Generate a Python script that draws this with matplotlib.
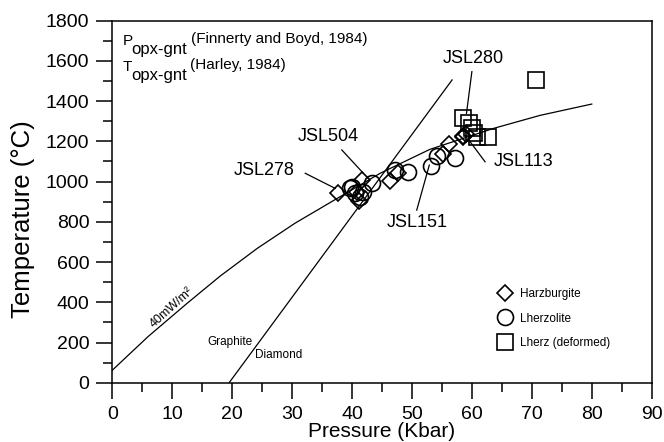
import numpy as np
import matplotlib.pyplot as plt
from matplotlib.lines import Line2D
from matplotlib.ticker import MultipleLocator

plt.rcParams['font.family'] = ['Liberation Sans', 'DejaVu Sans']

# sample data: pressure (kbar), temperature (C)
harz_p = [37.6, 40.9, 41.2, 41.6, 46.3, 47.6, 55.2, 56.1, 58.5, 58.6, 59.1]
harz_t = [941, 949, 905, 1007, 1004, 1044, 1137, 1186, 1226, 1220, 1236]

lherz_p = [39.7, 40.0, 40.5, 41.3, 41.9, 43.3, 47.2, 49.4, 53.2, 54.2, 57.2]
lherz_t = [966, 974, 941, 924, 949, 991, 1057, 1049, 1077, 1127, 1115]

def_p = [58.6, 59.6, 60.0, 60.3, 60.9, 62.7, 70.7]
def_t = [1314, 1290, 1264, 1240, 1223, 1222, 1504]

# 40 mW/m2 geotherm
geo_p = [0, 6.0, 12.5, 18.0, 24.2, 30.5, 37.0, 44.7, 53.0, 63.6, 71.4, 80.0]
geo_t = [62, 230, 395, 530, 668, 793, 907, 1041, 1160, 1264, 1329, 1385]

# graphite-diamond boundary
gd_p = [19.5, 56.7]
gd_t = [0, 1505]

# sample labels: text position, leader line start, leader line end
labels = ['JSL278', 'JSL504', 'JSL151', 'JSL280', 'JSL113']
lab_p = [25.3, 36.1, 50.8, 60.2, 68.6]
lab_t = [1057, 1223, 796, 1612, 1102]
lead_p0 = [32.2, 38.3, 50.8, 60.0, 62.2]
lead_t0 = [1041, 1157, 858, 1546, 1098]
lead_p1 = [37.2, 41.9, 52.9, 59.1, 59.7]
lead_t1 = [966, 1041, 1082, 1339, 1198]

fig = plt.figure(figsize=(6.64, 4.42), dpi=100)
ax = fig.add_axes([0.169, 0.134, 0.8125, 0.8195])

ax.plot(geo_p, geo_t, color='k', lw=0.9)
ax.plot(gd_p, gd_t, color='k', lw=0.9)

mk = dict(ls='none', mfc='none', mec='k', mew=1.2)
ax.plot(lherz_p, lherz_t, marker='o', ms=11.5, **mk)
ax.plot(harz_p, harz_t, marker='D', ms=7.8, **mk)
ax.plot(def_p, def_t, marker='s', ms=11.5, **mk)

for i in range(len(labels)):
    ax.plot([lead_p0[i], lead_p1[i]], [lead_t0[i], lead_t1[i]], color='k', lw=0.9)
    ax.text(lab_p[i], lab_t[i], labels[i], fontsize=13, ha='center', va='center')

ax.text(19.65, 202, 'Graphite', fontsize=8.5, ha='center', va='center')
ax.text(27.8, 138, 'Diamond', fontsize=8.5, ha='center', va='center')
ax.text(9.9, 372, '40mW/m²', fontsize=9, ha='center', va='center', rotation=42)

# header text with full size subscripts
ax.text(0.0195, 0.933, 'P', fontsize=11, transform=ax.transAxes, va='baseline')
ax.text(0.036, 0.908, 'opx-gnt', fontsize=12, transform=ax.transAxes, va='baseline')
ax.text(0.1455, 0.939, '(Finnerty and Boyd, 1984)', fontsize=11, transform=ax.transAxes, va='baseline')
ax.text(0.0195, 0.862, 'T', fontsize=11, transform=ax.transAxes, va='baseline')
ax.text(0.036, 0.837, 'opx-gnt', fontsize=12, transform=ax.transAxes, va='baseline')
ax.text(0.1445, 0.865, '(Harley, 1984)', fontsize=11, transform=ax.transAxes, va='baseline')

handles = [
    Line2D([], [], marker='D', ms=7.8, **mk),
    Line2D([], [], marker='o', ms=11.5, **mk),
    Line2D([], [], marker='s', ms=11.5, **mk),
]
ax.legend(handles, ['Harzburgite', 'Lherzolite', 'Lherz (deformed)'],
          loc='upper left', bbox_to_anchor=(0.717, 0.261), frameon=False,
          fontsize=8.5, handlelength=1.0, handletextpad=0.77,
          borderpad=0, borderaxespad=0, labelspacing=1.05)

ax.set_xlim(0, 90)
ax.set_ylim(0, 1800)
ax.xaxis.set_major_locator(MultipleLocator(10))
ax.xaxis.set_minor_locator(MultipleLocator(5))
ax.yaxis.set_major_locator(MultipleLocator(200))
ax.yaxis.set_minor_locator(MultipleLocator(100))
ax.tick_params(which='major', direction='out', length=11.5, width=1.1, labelsize=14, pad=5)
ax.tick_params(which='minor', direction='out', length=6.5, width=1.1)
for s in ax.spines.values():
    s.set_linewidth(1.1)

ax.set_xlabel('Pressure (Kbar)', fontsize=15)
ax.set_ylabel('Temperature (°C)', fontsize=18.5)
ax.xaxis.set_label_coords(0.5, -0.135)
ax.xaxis.label.set_va('center')
ax.yaxis.set_label_coords(-0.165, 0.452)
ax.yaxis.label.set_va('center')

plt.savefig('out.png', dpi=100)
